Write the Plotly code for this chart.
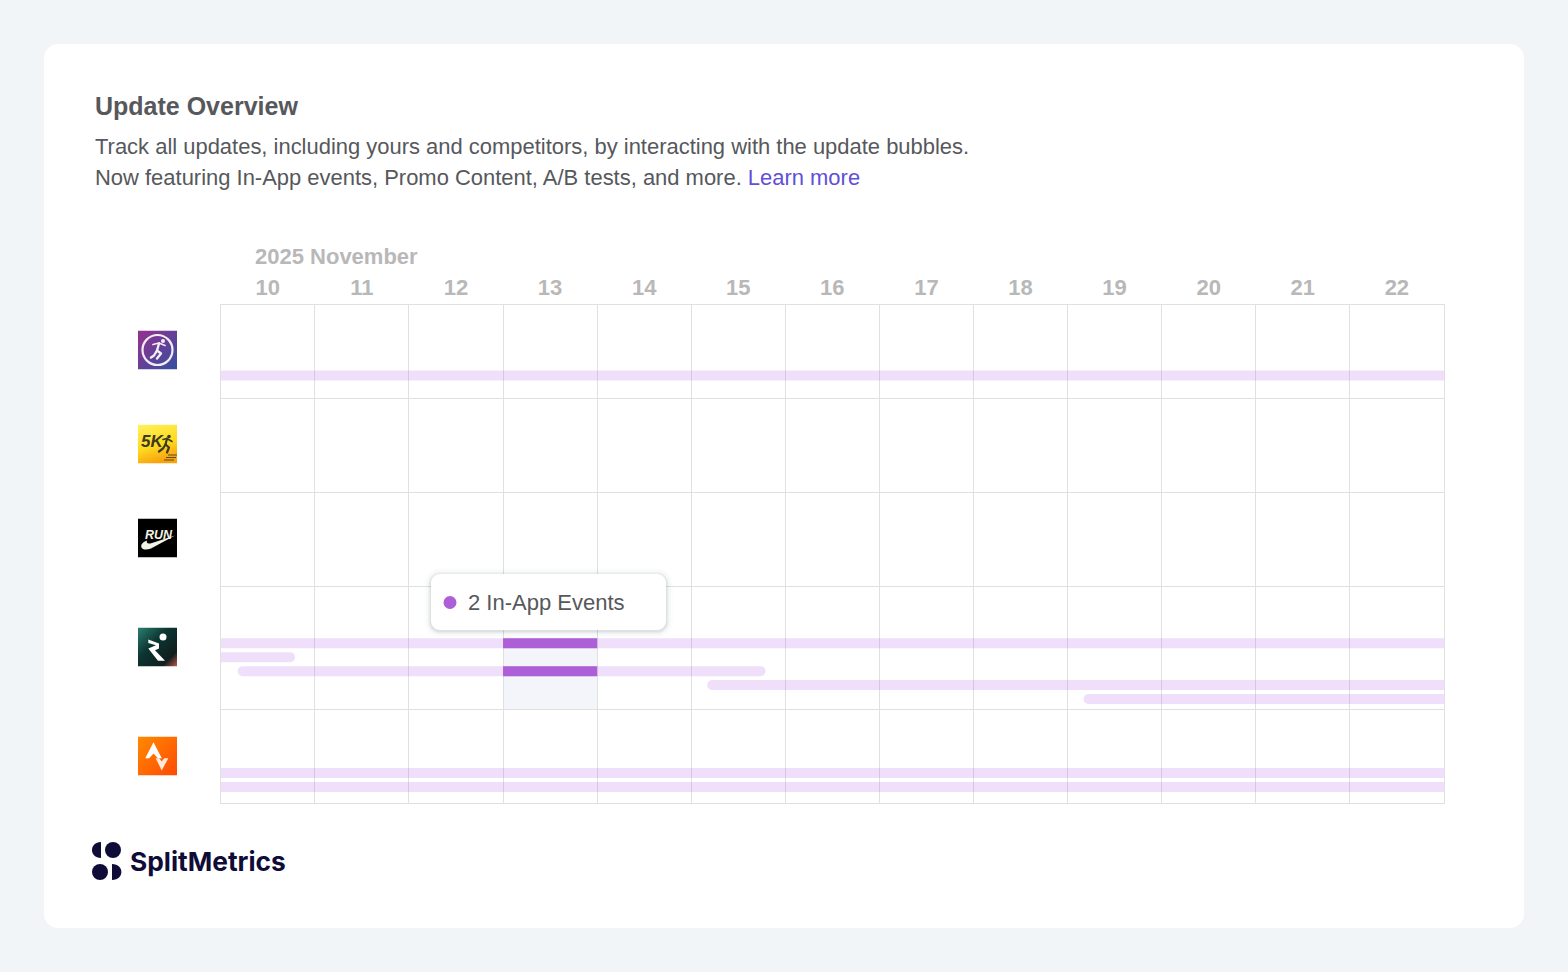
import base64
import plotly.graph_objects as go

# ---------- data ----------
apps = ["Runkeeper-style", "5K Runner", "Nike Run", "Runna", "Strava"]
days = [10, 11, 12, 13, 14, 15, 16, 17, 18, 19, 20, 21, 22]
day_labels = [str(d) for d in days]
month_label = "2025 November"

event_app = [0, 3, 3, 3, 3, 3, 4, 4]
event_lane = [0, 0, 1, 2, 3, 4, 0, 1]
event_start = [9.0, 9.0, 9.0, 9.68, 14.67, 18.67, 9.0, 9.0]
event_end = [23.0, 23.0, 10.29, 15.29, 23.0, 23.0, 23.0, 23.0]

selected_day = 13
selected_app = 3
selected_lanes = [0, 2]
tooltip_text = "2 In-App Events"

title = "Update Overview"
subtitle_1 = "Track all updates, including yours and competitors, by interacting with the update bubbles."
subtitle_2 = "Now featuring In-App events, Promo Content, A/B tests, and more. "
link_text = "Learn more"
brand = "SplitMetrics"

# ---------- layout constants (pixels) ----------
W, H = 1568, 972
PX0, PX1, PY0, PY1 = 220.8, 1443.9, 304.5, 803
row_h = [94, 94, 94, 123, 94]
first_lane = [71, 0, 0, 57, 64]
lane_step = 14
bar_h = 10

row_top = [0]
for h in row_h:
    row_top.append(row_top[-1] + h)


def px(v):
    return v / W


def py(v):
    return 1 - v / H


def lane_y(app, lane):
    return row_top[app] + first_lane[app] + lane * lane_step


def to_path(pts):
    out = []
    for p in pts:
        coords = p[1:]
        s = " ".join(
            f"{px(c):.6f},{py(coords[i + 1]):.6f}" for i, c in enumerate(coords) if i % 2 == 0
        )
        out.append(p[0] + " " + s)
    return " ".join(out)


def rrect(x0, y0, x1, y1, r):
    k = r * 0.45
    pts = [
        ("M", x0 + r, y0), ("L", x1 - r, y0),
        ("C", x1 - k, y0, x1, y0 + k, x1, y0 + r), ("L", x1, y1 - r),
        ("C", x1, y1 - k, x1 - k, y1, x1 - r, y1), ("L", x0 + r, y1),
        ("C", x0 + k, y1, x0, y1 - k, x0, y1 - r), ("L", x0, y0 + r),
        ("C", x0, y0 + k, x0 + k, y0, x0 + r, y0),
    ]
    return to_path(pts) + " Z"


def pshape(path, fill, layer="above"):
    return dict(type="path", xref="paper", yref="paper", path=path,
                fillcolor=fill, line=dict(width=0), layer=layer)


def svg_uri(body):
    svg = f'<svg xmlns="http://www.w3.org/2000/svg" width="78" height="78" viewBox="0 0 39 39">{body}</svg>'
    return "data:image/svg+xml;base64," + base64.b64encode(svg.encode()).decode()


icon1 = svg_uri(
    '<defs><linearGradient id="g" x1="0" y1="0" x2="1" y2="1"><stop offset="0" stop-color="#97308f"/>'
    '<stop offset="1" stop-color="#33509f"/></linearGradient></defs><rect width="39" height="39" fill="url(#g)"/>'
    '<circle cx="19.5" cy="19.5" r="15" fill="none" stroke="#f3ecf5" stroke-width="2.2"/>'
    '<g fill="none" stroke="#f3ecf5" stroke-linecap="round" stroke-linejoin="round">'
    '<path d="M15 14 L21 12.5 L27 15" stroke-width="1.8"/><path d="M21 13 L19 20 L23 23 L19 28" stroke-width="2.4"/>'
    '<path d="M19 20 L16 25 L13 27" stroke-width="2.4"/></g><circle cx="25" cy="10.5" r="2" fill="#f3ecf5"/>'
)
icon2 = svg_uri(
    '<defs><linearGradient id="g" x1="0.1" y1="0" x2="0.4" y2="1"><stop offset="0" stop-color="#fff05a"/>'
    '<stop offset="0.6" stop-color="#ffd91e"/><stop offset="1" stop-color="#f7a20f"/></linearGradient></defs>'
    '<rect width="39" height="39" fill="url(#g)"/>'
    '<g fill="none" stroke="#3d3a22" stroke-linecap="round" stroke-linejoin="round">'
    '<path d="M25 15 L29 14 L34 17" stroke-width="1.6"/><path d="M29 14 L27.5 20 L31 23 L29 28" stroke-width="2.2"/>'
    '<path d="M27.5 20 L25 24 L21 27" stroke-width="2.2"/></g><circle cx="31" cy="12" r="1.8" fill="#3d3a22"/>'
    '<path d="M30 30.5 H39 M28 33 H38 M26 35.5 H36" stroke="#5a4e20" stroke-width="1"/>'
)
icon3 = svg_uri(
    '<rect width="39" height="39" fill="#000"/>'
    '<path d="M3.5 26 C2 31 7 32 13 30 L37 17 L14 24.5 C10 25.7 8 25 9 22 C6.5 23 4.2 24.5 3.5 26 Z" fill="#f1f3e4"/>'
)
icon4 = svg_uri(
    '<defs><linearGradient id="g" x1="0" y1="0" x2="1" y2="1"><stop offset="0" stop-color="#2c8070"/>'
    '<stop offset="0.4" stop-color="#0c3531"/><stop offset="0.8" stop-color="#111d1d"/><stop offset="1" stop-color="#c2584f"/>'
    '</linearGradient></defs><rect width="39" height="39" fill="url(#g)"/>'
    '<circle cx="25" cy="9.5" r="3.5" fill="#fff"/>'
    '<path d="M10.3 12 L21 16 L21 21 L17 22.7 L27 33.3 L20 33.3 L10.3 21 L18 17.7 L10.3 15.5 Z" fill="#fff"/>'
)
icon5 = svg_uri(
    '<defs><linearGradient id="g" x1="0" y1="0" x2="1" y2="1"><stop offset="0" stop-color="#ff8a00"/>'
    '<stop offset="1" stop-color="#ff4a05"/></linearGradient></defs><rect width="39" height="39" fill="url(#g)"/>'
    '<path d="M15.5 5.7 L23.8 21.7 L19.8 21.7 L15.5 17 L11.2 21.7 L7.2 21.7 Z" fill="#fff"/>'
    '<path d="M17.7 21.7 L21.2 21.7 L23.7 25 L26.2 21.7 L30.3 21.7 L23.7 34 Z" fill="#ffeadb"/>'
)
icons = [(icon1, 330.5), (icon2, 424.5), (icon3, 518.5), (icon4, 627.5), (icon5, 736.5)]

# ---------- traces ----------
ev_y = [lane_y(a, l) for a, l in zip(event_app, event_lane)]
fig = go.Figure()
fig.add_trace(go.Bar(
    orientation="h", y=ev_y, base=event_start,
    x=[e - s for s, e in zip(event_start, event_end)],
    width=bar_h, marker=dict(color="rgba(170,85,230,0.19)", cornerradius=5, line=dict(width=0)),
    hoverinfo="skip", showlegend=False,
))
fig.add_trace(go.Bar(
    orientation="h", y=[lane_y(selected_app, l) for l in selected_lanes],
    base=[selected_day - 0.5] * len(selected_lanes), x=[1] * len(selected_lanes),
    width=bar_h, marker=dict(color="#ac5fd6", line=dict(width=0)),
    hoverinfo="skip", showlegend=False,
))

# ---------- shapes ----------
shapes = [
    pshape(rrect(44, 44, 1524, 928, 14), "#ffffff", "below"),
    dict(type="rect", xref="x", yref="y", layer="below", line=dict(width=0), fillcolor="#f4f5fa",
         x0=selected_day - 0.5, x1=selected_day + 0.5,
         y0=lane_y(selected_app, 0) - bar_h / 2, y1=row_top[selected_app + 1]),
]
for spread, alpha in [(7, 0.012), (5, 0.018), (3, 0.03), (2, 0.04), (1, 0.05)]:
    shapes.append(pshape(rrect(431 - spread, 574 - spread + 1, 666 + spread, 630 + spread + 1, 9 + spread),
                         f"rgba(40,45,70,{alpha})"))
shapes.append(pshape(rrect(431, 574, 666, 630, 9), "#ffffff"))
shapes.append(dict(type="circle", xref="paper", yref="paper", x0=px(443.5), x1=px(456.5),
                   y0=py(609), y1=py(596), fillcolor="#ac5fd6", line=dict(width=0), layer="above"))
# brand mark
INK = "#100c38"
shapes.append(dict(type="circle", xref="paper", yref="paper", x0=px(105), x1=px(121), y0=py(858), y1=py(842),
                   fillcolor=INK, line=dict(width=0), layer="above"))
shapes.append(dict(type="circle", xref="paper", yref="paper", x0=px(92), x1=px(108), y0=py(880), y1=py(864),
                   fillcolor=INK, line=dict(width=0), layer="above"))
shapes.append(pshape(to_path([("M", 101, 842), ("C", 89, 842, 89, 858, 101, 858)]) + " Z", INK))
shapes.append(pshape(to_path([("M", 112, 864), ("C", 124.5, 864, 124.5, 880, 112, 880)]) + " Z", INK))


# ---------- text ----------
def txt(x, y, text, size, color, weight=400, family="Liberation Sans", italic=False, anchor="left"):
    return dict(xref="paper", yref="paper", x=px(x), y=py(y), text=text, showarrow=False,
                xanchor=anchor, yanchor="middle", align="left",
                font=dict(size=size, color=color, weight=weight, family=family,
                          style="italic" if italic else "normal"))


annotations = [
    txt(93, 106, title, 25, "#56585c", 700),
    txt(93, 146.8, subtitle_1, 21.96, "#56585c"),
    txt(93, 177.8, subtitle_2 + f'<span style="color:#5f50d8">{link_text}</span>', 21.96, "#56585c"),
    txt(253, 256, month_label, 22, "#b8b8b8", 700),
    txt(466, 602, tooltip_text, 22, "#56585c"),
    txt(128, 861, brand, 26.3, INK, 700, "Inter"),
    txt(152.5, 441, "5K", 17, "#3d3a22", 700, italic=True, anchor="center"),
    txt(159, 534.5, "RUN", 12.5, "#f1f3e4", 700, italic=True, anchor="center"),
]

fig.update_layout(
    width=W, height=H, margin=dict(l=0, r=0, t=0, b=0),
    paper_bgcolor="#f1f5f8", plot_bgcolor="rgba(0,0,0,0)",
    barmode="overlay", showlegend=False, shapes=shapes, annotations=annotations,
    images=[dict(source=s, xref="paper", yref="paper", x=px(138), y=py(top), sizex=39 / W, sizey=39 / H,
                 xanchor="left", yanchor="top", sizing="stretch", layer="above") for s, top in icons],
    xaxis=dict(
        domain=[px(PX0), px(PX1)], range=[days[0] - 0.5, days[-1] + 0.5], side="top", anchor="y",
        tickmode="array", tickvals=days, ticktext=day_labels, ticks="", showgrid=False, zeroline=False,
        tickfont=dict(family="Liberation Sans", size=22, color="#b8b8b8", weight=700),
        ticklabelstandoff=0,
        minor=dict(tickmode="array", tickvals=[d - 0.5 for d in days] + [days[-1] + 0.5],
                   showgrid=True, gridcolor="#e0e0e0", gridwidth=1, ticks=""),
        showline=True, linecolor="#e0e0e0", linewidth=1, mirror=True,
    ),
    yaxis=dict(
        domain=[py(PY1), py(PY0)], range=[row_top[-1], 0], anchor="x",
        tickmode="array", tickvals=row_top[1:-1], showticklabels=False, ticks="",
        showgrid=True, gridcolor="#e0e0e0", gridwidth=1, zeroline=False,
        showline=True, linecolor="#e0e0e0", linewidth=1, mirror=True,
    ),
)

fig.write_html("out.html", config=dict(displayModeBar=False),
               post_script="document.body.style.margin='0';document.body.style.overflow='hidden';")
